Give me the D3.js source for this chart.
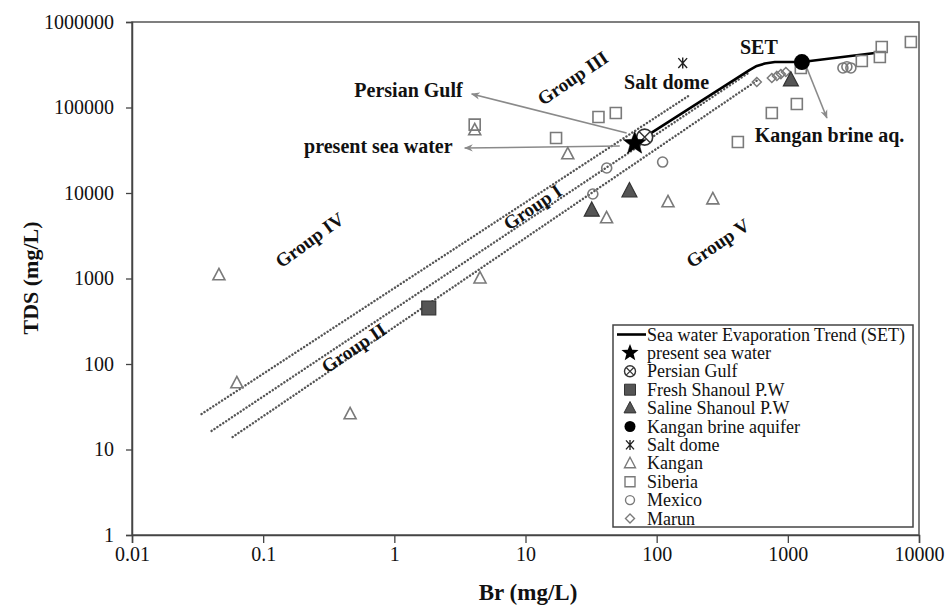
<!DOCTYPE html>
<html lang="en">
<head>
<meta charset="UTF-8">
<title>TDS vs Br</title>
<script src="https://d3js.org/d3.v7.min.js"></script>
<style>
  body { margin: 0; background: #fff; }
  svg text { font-family: "Liberation Serif", "Times New Roman", serif; fill: #111; }
</style>
</head>
<body>
<div id="chart"></div>
<script>
// axis ticks
const xTicks = [0.01, 0.1, 1, 10, 100, 1000, 10000];
const yTicks = [1, 10, 100, 1000, 10000, 100000, 1000000];

// [Br, TDS] pairs
const kangan = [[0.046, 1100], [0.063, 60], [0.46, 26], [4.5, 1010], [4.1, 54600], [21, 28600], [41.5, 5100], [122, 7850], [268, 8500]];
const siberia = [[4.1, 63000], [17.1, 44000], [36, 77400], [48.8, 86200], [416, 39500], [755, 86200], [1171, 110000], [1256, 290000], [3665, 350000], [5030, 390000], [5200, 510000], [8670, 583000]];
const mexico = [[32.6, 9730], [41.6, 19600], [111, 23000], [2630, 290000], [2820, 300000], [3025, 290000]];
const marun = [[580, 199000], [755, 221000], [825, 234000], [885, 246000], [966, 260000]];
const freshShanoul = [[1.83, 452]];
const salineShanoul = [[32, 6300], [62, 10600], [1055, 210000]];
const kanganBrine = [[1280, 340000]];
const saltDome = [[158, 331000]];
const seaWater = [[68, 38000]];
const persianGulf = [[81, 45000]];

// sea water evaporation trend
const setLine = [[81, 45000], [513, 275000], [580, 306000], [668, 327000], [796, 340000], [1280, 340000], [4610, 434000]];

// dotted group boundaries
const guides = [
  [[0.0339, 26], [179, 140000]],
  [[0.0404, 16.5], [513, 260000]],
  [[0.0585, 14], [590, 210000]]
];

// annotation arrows: from -> to
const arrows = [
  [[59, 50300], [3.89, 144000]],
  [[52.3, 35400], [3.44, 33600]],
  [[1396, 290000], [1985, 75400]]
];

// text labels: text, Br, TDS, anchor, rotation
const notes = [
  ["Persian Gulf", 3.32, 160000, "end", 0],
  ["present sea water", 2.78, 35400, "end", 0],
  ["Salt dome", 119, 199000, "middle", 0],
  ["SET", 601, 510000, "middle", 0],
  ["Kangan brine aq.", 560, 47700, "start", 0],
  ["Group III", 22.9, 221000, "middle", -34],
  ["Group IV", 0.226, 2820, "middle", -36],
  ["Group I", 11.3, 6860, "middle", -34],
  ["Group II", 0.49, 154, "middle", -34],
  ["Group V", 292, 2600, "middle", -34]
];

const legendItems = ["Sea water Evaporation Trend (SET)", "present sea water", "Persian Gulf", "Fresh Shanoul P.W",
  "Saline Shanoul P.W", "Kangan brine aquifer", "Salt dome", "Kangan", "Siberia", "Mexico", "Marun"];

const W = 946, H = 610;
const margin = { top: 22, right: 27, bottom: 75, left: 132 };

const svg = d3.select("#chart").append("svg")
  .attr("width", W)
  .attr("height", H);

const x = d3.scaleLog().domain([0.01, 10000]).range([margin.left, W - margin.right]);
const y = d3.scaleLog().domain([1, 1000000]).range([H - margin.bottom, margin.top]);

const fmt = d => (d < 1 ? String(d) : d3.format("d")(d));

// plot frame
svg.append("rect")
  .attr("x", x(0.01)).attr("y", y(1000000))
  .attr("width", x(10000) - x(0.01)).attr("height", y(1) - y(1000000))
  .attr("fill", "none").attr("stroke", "#555").attr("stroke-width", 1.5);

const xAxis = svg.append("g")
  .attr("transform", `translate(0,${y(1)})`)
  .call(d3.axisBottom(x).tickValues(xTicks).tickFormat(fmt).tickSize(8).tickPadding(4));
const yAxis = svg.append("g")
  .attr("transform", `translate(${x(0.01)},0)`)
  .call(d3.axisLeft(y).tickValues(yTicks).tickFormat(fmt).tickSize(6).tickPadding(12));
[xAxis, yAxis].forEach(g => {
  g.select(".domain").attr("stroke", "#444").attr("stroke-width", 1.5);
  g.selectAll(".tick line").attr("stroke", "#444").attr("stroke-width", 1.3);
  g.selectAll(".tick text").attr("font-size", 20).attr("font-family", "Liberation Serif").attr("fill", "#111");
});

svg.append("text")
  .attr("transform", `translate(30,278) rotate(-90)`)
  .attr("text-anchor", "middle").attr("dominant-baseline", "central")
  .attr("font-size", 22).attr("font-weight", "bold")
  .text("TDS (mg/L)");
svg.append("text")
  .attr("x", 528).attr("y", 600)
  .attr("text-anchor", "middle")
  .attr("font-size", 23).attr("font-weight", "bold")
  .text("Br (mg/L)");

const line = d3.line().x(d => x(d[0])).y(d => y(d[1]));

// dotted boundaries
svg.append("g").selectAll("path").data(guides).join("path")
  .attr("d", line)
  .attr("fill", "none").attr("stroke", "#555").attr("stroke-width", 2.4)
  .attr("stroke-dasharray", "0.1 3.4").attr("stroke-linecap", "round");

// arrows
svg.append("defs").append("marker")
  .attr("id", "arr").attr("viewBox", "0 0 10 10").attr("refX", 9).attr("refY", 5)
  .attr("markerWidth", 9).attr("markerHeight", 9).attr("markerUnits", "userSpaceOnUse")
  .attr("orient", "auto")
  .append("path").attr("d", "M0,1L10,5L0,9L3,5Z").attr("fill", "#8a8a8a");
svg.append("g").selectAll("path").data(arrows).join("path")
  .attr("d", line)
  .attr("stroke", "#8a8a8a").attr("stroke-width", 1.6).attr("fill", "none")
  .attr("marker-end", "url(#arr)");

// SET line
svg.append("path").datum(setLine)
  .attr("d", line)
  .attr("fill", "none").attr("stroke", "#000").attr("stroke-width", 2.6)
  .attr("stroke-linejoin", "round");

// marker shapes
const tri = (w) => `M0,${-w * 0.55}L${w / 2},${w * 0.4}L${-w / 2},${w * 0.4}Z`;
const sq = (s) => `M${-s / 2},${-s / 2}h${s}v${s}h${-s}Z`;
const dia = (s) => `M0,${-s / 2}L${s / 2},0L0,${s / 2}L${-s / 2},0Z`;
const star = (r) => {
  let p = "";
  for (let i = 0; i < 10; i++) {
    const a = -Math.PI / 2 + i * Math.PI / 5;
    const rr = i % 2 ? r * 0.42 : r;
    p += (i ? "L" : "M") + (rr * Math.cos(a)).toFixed(2) + "," + (rr * Math.sin(a)).toFixed(2);
  }
  return p + "Z";
};
const aster = (s) => `M${-s * 0.4},${-s * 0.45}L${s * 0.4},${s * 0.45}M${s * 0.4},${-s * 0.45}L${-s * 0.4},${s * 0.45}M0,${-s * 0.5}V${s * 0.5}`;
const gray = "#7a7a7a";

function drawPaths(data, d, fill, stroke, sw) {
  svg.append("g").selectAll("path").data(data).join("path")
    .attr("transform", p => `translate(${x(p[0])},${y(p[1])})`)
    .attr("d", d).attr("fill", fill).attr("stroke", stroke).attr("stroke-width", sw);
}

drawPaths(kangan, tri(12), "none", gray, 1.6);
drawPaths(siberia, sq(11), "none", gray, 1.6);
drawPaths(marun, dia(9), "none", gray, 1.5);
svg.append("g").selectAll("circle").data(mexico).join("circle")
  .attr("cx", p => x(p[0])).attr("cy", p => y(p[1])).attr("r", 5)
  .attr("fill", "none").attr("stroke", gray).attr("stroke-width", 1.6);
drawPaths(freshShanoul, sq(14), "#555", "#333", 1.2);
drawPaths(salineShanoul, tri(15), "#555", "#333", 1.2);
drawPaths(saltDome, aster(11), "none", "#222", 1.4);
svg.append("g").selectAll("circle").data(kanganBrine).join("circle")
  .attr("cx", p => x(p[0])).attr("cy", p => y(p[1])).attr("r", 8).attr("fill", "#000");
const pg = svg.append("g").selectAll("g").data(persianGulf).join("g")
  .attr("transform", p => `translate(${x(p[0])},${y(p[1])})`);
pg.append("circle").attr("r", 8).attr("fill", "#fff").attr("stroke", "#333").attr("stroke-width", 1.6);
pg.append("path").attr("d", "M-5.6,-5.6L5.6,5.6M5.6,-5.6L-5.6,5.6").attr("stroke", "#333").attr("stroke-width", 1.4);
drawPaths(seaWater, star(12), "#000", "#000", 0.5);

// annotation text
svg.append("g").selectAll("text").data(notes).join("text")
  .attr("transform", d => `translate(${x(d[1])},${y(d[2])}) rotate(${d[4]})`)
  .attr("text-anchor", d => d[3]).attr("dominant-baseline", "central")
  .attr("font-size", d => d[0].startsWith("Group") ? 19 : 20).attr("font-weight", "bold")
  .text(d => d[0]);

// legend
const lg = svg.append("g");
const lx = 613, ly = 325, lw = 300, lh = 202, rowH = 18.4;
lg.append("rect").attr("x", lx).attr("y", ly).attr("width", lw).attr("height", lh)
  .attr("fill", "#fff").attr("stroke", "#444").attr("stroke-width", 1.5);
const rows = lg.selectAll("g").data(legendItems).join("g")
  .attr("transform", (d, i) => `translate(${lx},${ly + 9.5 + i * rowH})`);
rows.append("text").attr("x", 34).attr("dominant-baseline", "central")
  .attr("font-size", 18).text(d => d);
const sym = (i) => rows.filter((d, j) => j === i).append("g").attr("transform", "translate(17,0)");
sym(0).append("path").attr("d", "M-13,0H16").attr("stroke", "#000").attr("stroke-width", 2.6);
sym(1).append("path").attr("d", star(9)).attr("fill", "#000");
const lpg = sym(2);
lpg.append("circle").attr("r", 5.5).attr("fill", "#fff").attr("stroke", "#333").attr("stroke-width", 1.4);
lpg.append("path").attr("d", "M-3.8,-3.8L3.8,3.8M3.8,-3.8L-3.8,3.8").attr("stroke", "#333").attr("stroke-width", 1.2);
sym(3).append("path").attr("d", sq(11)).attr("fill", "#555").attr("stroke", "#333");
sym(4).append("path").attr("d", tri(12)).attr("fill", "#555").attr("stroke", "#333");
sym(5).append("circle").attr("r", 5.5).attr("fill", "#000");
sym(6).append("path").attr("d", aster(10)).attr("stroke", "#222").attr("stroke-width", 1.4);
sym(7).append("path").attr("d", tri(11)).attr("fill", "none").attr("stroke", gray).attr("stroke-width", 1.4);
sym(8).append("path").attr("d", sq(10)).attr("fill", "none").attr("stroke", gray).attr("stroke-width", 1.4);
sym(9).append("circle").attr("r", 4.5).attr("fill", "none").attr("stroke", gray).attr("stroke-width", 1.4);
sym(10).append("path").attr("d", dia(9)).attr("fill", "none").attr("stroke", gray).attr("stroke-width", 1.4);
</script>
</body>
</html>
